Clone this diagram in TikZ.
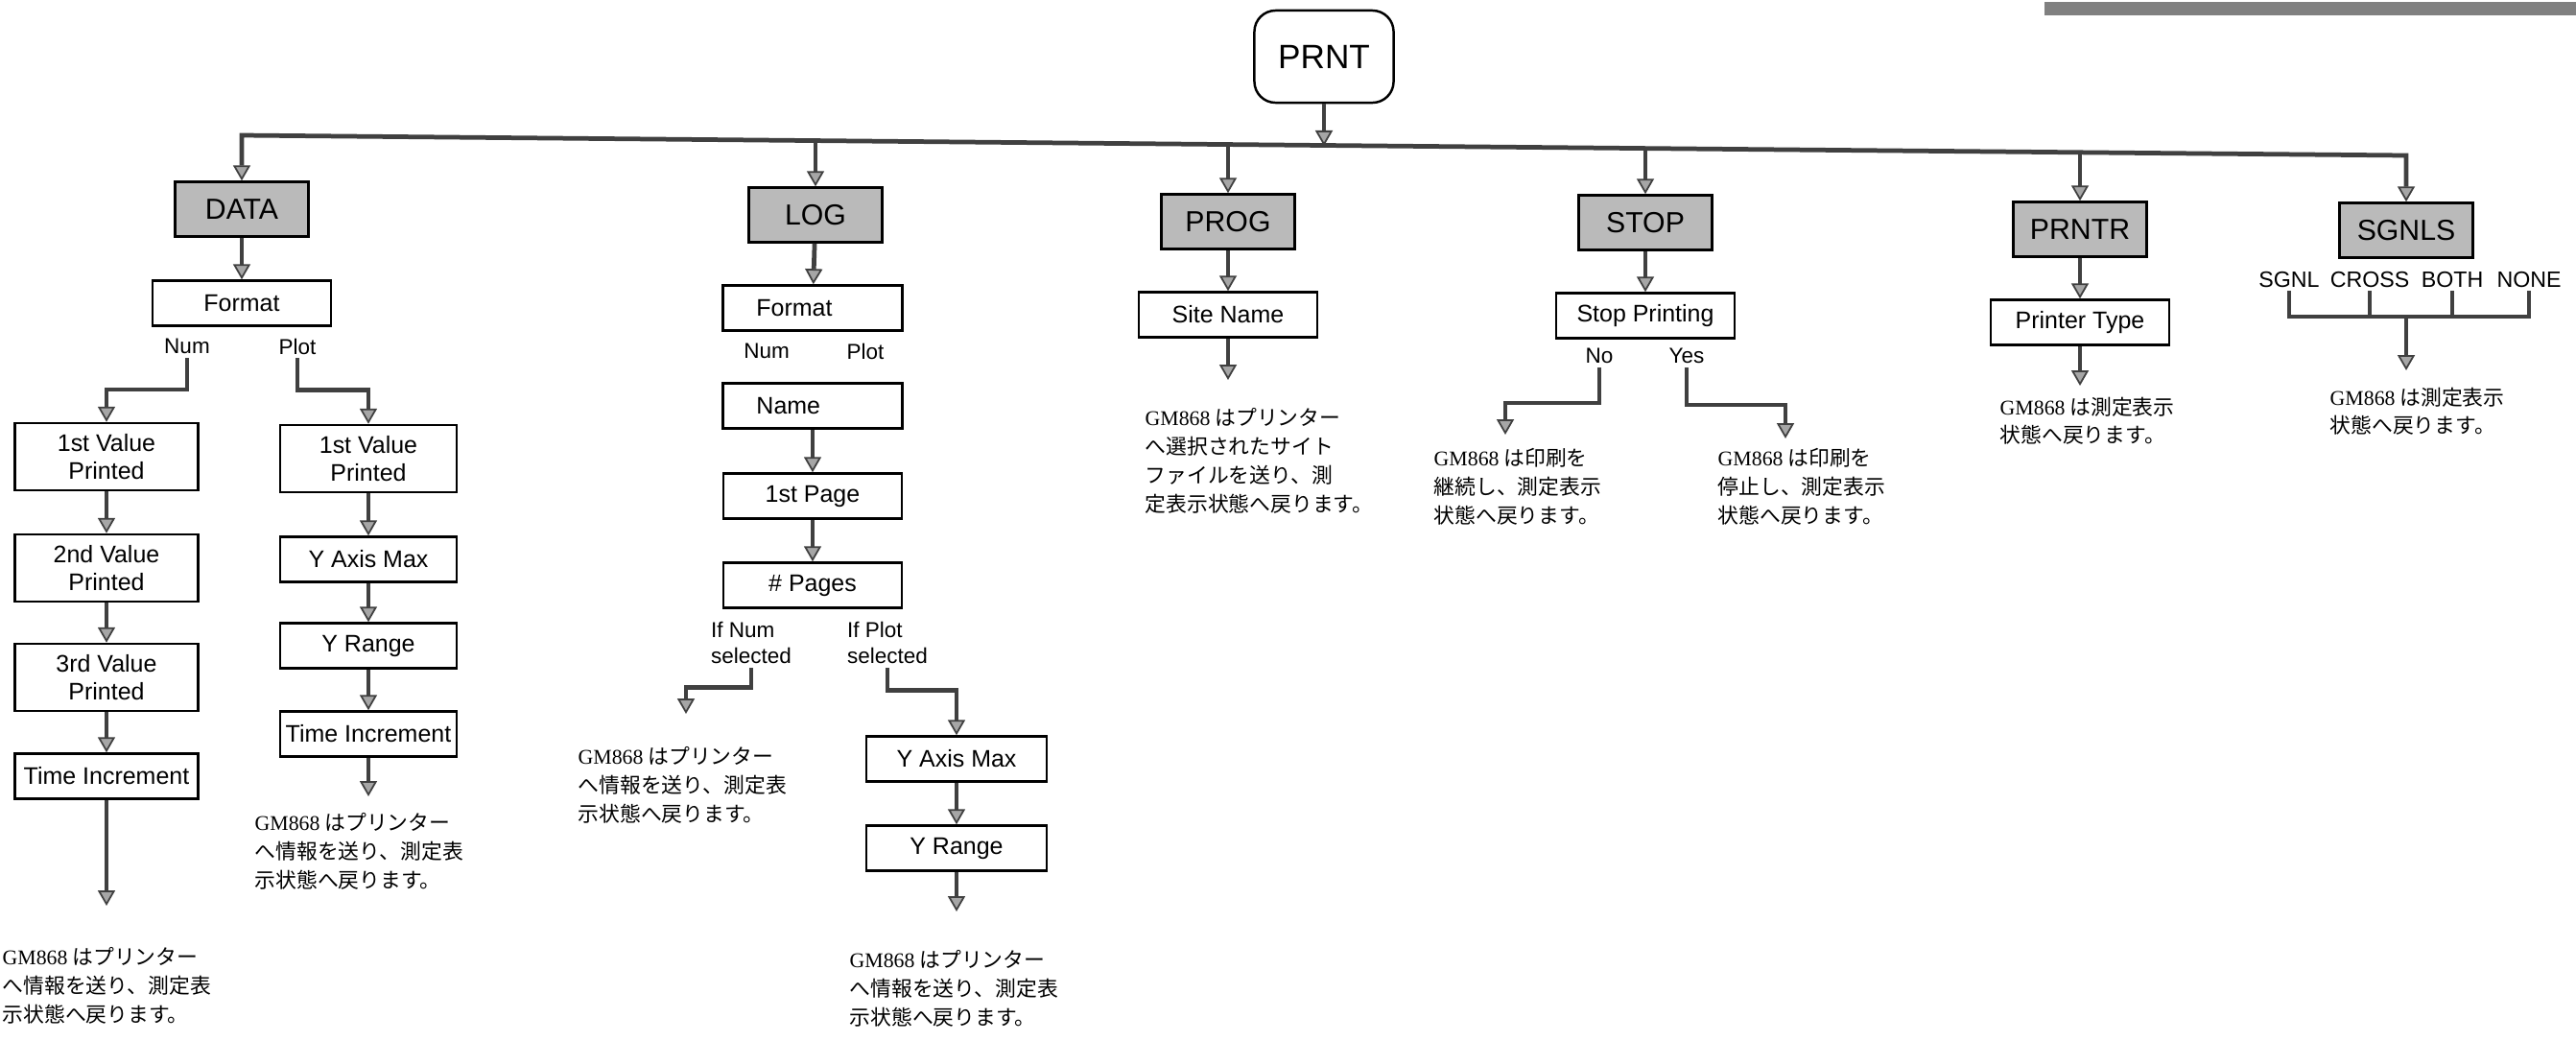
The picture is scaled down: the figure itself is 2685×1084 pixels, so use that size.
\documentclass[tikz,border=0pt]{standalone}
\usepackage{fontspec}
\setsansfont{Liberation Sans}
\newfontfamily\jpfont{Noto Sans CJK JP}
\newfontfamily\gmfont{Liberation Serif}
\usetikzlibrary{arrows.meta, positioning}
\newcommand{\gm}{{\gmfont GM868}\ }
\tikzset{
    font=\sffamily,
    >={Triangle[length=1.6mm, width=1.8mm, fill=black!35, line width=0.5pt]},
    % Boxes
    menu/.style={rectangle, draw, line width=0.7pt, fill=black!27, inner sep=1pt,
                 minimum width=1.39cm, minimum height=0.57cm, font=\sffamily\fontsize{8.6}{10}\selectfont},
    item/.style={rectangle, draw, line width=0.7pt, fill=white, inner sep=1pt, align=center,
                 minimum width=1.86cm, minimum height=0.47cm, font=\sffamily\fontsize{7.1}{8.1}\selectfont},
    tall/.style={item, minimum width=1.91cm, minimum height=0.70cm},
    litem/.style={item, align=left, text width=1.17cm, inner xsep=0.35cm},
    root/.style={rectangle, draw, line width=0.7pt, rounded corners=0.22cm,
                 minimum width=1.45cm, minimum height=0.96cm, font=\sffamily\fontsize{10}{12}\selectfont},
    % Flow & Labels
    flow/.style={->, line width=1.35pt, draw=black!75},
    wire/.style={line width=1.35pt, draw=black!75},
    opt/.style={inner sep=1pt, align=left, font=\sffamily\fontsize{6.4}{7.9}\selectfont},
    note/.style={anchor=north west, inner sep=0pt, align=left, font=\jpfont\fontsize{6.2}{8.5}\selectfont}
}
\begin{document}
\begin{tikzpicture}[x=0.01cm, y=-0.01cm]
\useasboundingbox (0,0) rectangle (2685,1084);
\fill[black!50] (2131,2) rectangle (2685,16);

\node[root] (prnt) at (1380,59) {PRNT};

\node[menu] (data) at (252,218) {DATA};
\node[menu] (log) at (850,224) {LOG};
\node[menu] (prog) at (1280,231) {PROG};
\node[menu] (stop) at (1715,232) {STOP};
\node[menu] (prntr) at (2168,239) {PRNTR};
\node[menu] (sgnls) at (2508,240) {SGNLS};

\coordinate (b1) at (252,141);
\coordinate (b2) at (850,147);
\coordinate (b3) at (1280,151);
\coordinate (bp) at (1380,152);
\coordinate (b4) at (1715,155);
\coordinate (b5) at (2168,159);
\coordinate (b6) at (2508,162);

\draw[flow, <->] (data) -- (b1) -- (b6) -- (sgnls);
\draw[flow] (prnt) -- (bp);
\foreach \b/\n in {b2/log, b3/prog, b4/stop, b5/prntr}
    \draw[flow] (\b) -- (\n);

% DATA
\node[item] (dfmt) at (252,316) {Format};
\node[opt] (dnum) at (195,361) {Num};
\node[opt] (dplot) at (310,361) {Plot};
\node[tall] (dv1) at (111,476) {1st Value\\Printed};
\node[tall] (dv2) at (111,592) {2nd Value\\Printed};
\node[tall] (dv3) at (111,706) {3rd Value\\Printed};
\node[item, minimum width=1.91cm] (dti) at (111,809) {Time Increment};
\coordinate (dtiend) at (111,944);
\node[tall, minimum width=1.84cm] (pv1) at (384,478) {1st Value\\Printed};
\node[item, minimum width=1.84cm] (pymax) at (384,583) {Y Axis Max};
\node[item, minimum width=1.84cm] (pyrng) at (384,673) {Y Range};
\node[item, minimum width=1.84cm] (pti) at (384,765) {Time Increment};
\coordinate (ptiend) at (384,830);
\node[note] (dnnote) at (2,987) {\gm はプリンター\\へ情報を送り、測定表\\示状態へ戻ります。};
\node[note] (dpnote) at (265,847) {\gm はプリンター\\へ情報を送り、測定表\\示状態へ戻ります。};

\draw[flow] (data) -- (dfmt);
\draw[flow] (dnum.south) -- ++(0,33) -| (dv1);
\draw[flow] (dplot.south) -- ++(0,33) -| (pv1);
\draw[flow] (dv1) -- (dv2);
\draw[flow] (dv2) -- (dv3);
\draw[flow] (dv3) -- (dti);
\draw[flow] (dti) -- (dtiend);
\draw[flow] (pv1) -- (pymax);
\draw[flow] (pymax) -- (pyrng);
\draw[flow] (pyrng) -- (pti);
\draw[flow] (pti) -- (ptiend);

% LOG
\node[litem] (lfmt) at (847,321) {Format};
\node[opt] (lnum) at (799,366) {Num};
\node[opt] (lplot) at (902,366) {Plot};
\node[litem] (lname) at (847,423) {Name};
\node[item] (lpg1) at (847,517) {1st Page};
\node[item] (lpgs) at (847,610) {\# Pages};
\node[opt] (lifnum) at (783,670) {If Num\\selected};
\node[opt] (lifplot) at (925,670) {If Plot\\selected};
\coordinate (lnumend) at (715,744);
\node[item, minimum width=1.88cm] (lymax) at (997,791) {Y Axis Max};
\node[item, minimum width=1.88cm] (lyrng) at (997,884) {Y Range};
\coordinate (lyend) at (997,950);
\node[note] (lnnote) at (602,778) {\gm はプリンター\\へ情報を送り、測定表\\示状態へ戻ります。};
\node[note] (lpnote) at (885,990) {\gm はプリンター\\へ情報を送り、測定表\\示状態へ戻ります。};

\draw[flow] (log) -- (lfmt);
\draw[flow] (lname) -- (lpg1);
\draw[flow] (lpg1) -- (lpgs);
\draw[flow] (lifnum.south) -- ++(0,20) -| (lnumend);
\draw[flow] (lifplot.south) -- ++(0,23) -| (lymax);
\draw[flow] (lymax) -- (lyrng);
\draw[flow] (lyrng) -- (lyend);

% PROG
\node[item] (psite) at (1280,328) {Site Name};
\coordinate (psend) at (1280,396);
\node[note] (pgnote) at (1193,425) {\gm はプリンター\\へ選択されたサイト\\ファイルを送り、測\\定表示状態へ戻ります。};
\draw[flow] (prog) -- (psite);
\draw[flow] (psite) -- (psend);

% STOP
\node[item] (sprint) at (1715,329) {Stop Printing};
\node[opt] (sno) at (1667,371) {No};
\node[opt] (syes) at (1758,371) {Yes};
\coordinate (snoend) at (1569,453);
\coordinate (syesend) at (1861,457);
\node[note] (snnote) at (1494,467) {\gm は印刷を\\継続し、測定表示\\状態へ戻ります。};
\node[note] (synote) at (1790,467) {\gm は印刷を\\停止し、測定表示\\状態へ戻ります。};
\draw[flow] (stop) -- (sprint);
\draw[flow] (sno.south) -- ++(0,37) -| (snoend);
\draw[flow] (syes.south) -- ++(0,39) -| (syesend);

% PRNTR
\node[item] (rtype) at (2168,336) {Printer Type};
\coordinate (rtend) at (2168,402);
\node[note] (rtnote) at (2084,413) {\gm は測定表示\\状態へ戻ります。};
\draw[flow] (prntr) -- (rtype);
\draw[flow] (rtype) -- (rtend);

% SGNLS
\node[opt, font=\sffamily\fontsize{6.6}{8}\selectfont] (sg1) at (2386,291) {SGNL};
\node[opt, font=\sffamily\fontsize{6.6}{8}\selectfont] (sg2) at (2470,291) {CROSS};
\node[opt, font=\sffamily\fontsize{6.6}{8}\selectfont] (sg3) at (2556,291) {BOTH};
\node[opt, font=\sffamily\fontsize{6.6}{8}\selectfont] (sg4) at (2636,291) {NONE};
\coordinate (sgjoin) at (2508,330);
\coordinate (sgend) at (2508,386);
\node[note] (sgnote) at (2428,403) {\gm は測定表示\\状態へ戻ります。};
\draw[wire] (sg1.south) |- (sg4.south |- sgjoin) -- (sg4.south);
\draw[wire] (sg2.south) -- (sg2.south |- sgjoin);
\draw[wire] (sg3.south) -- (sg3.south |- sgjoin);
\draw[flow] (sgjoin) -- (sgend);

\end{tikzpicture}
\end{document}
